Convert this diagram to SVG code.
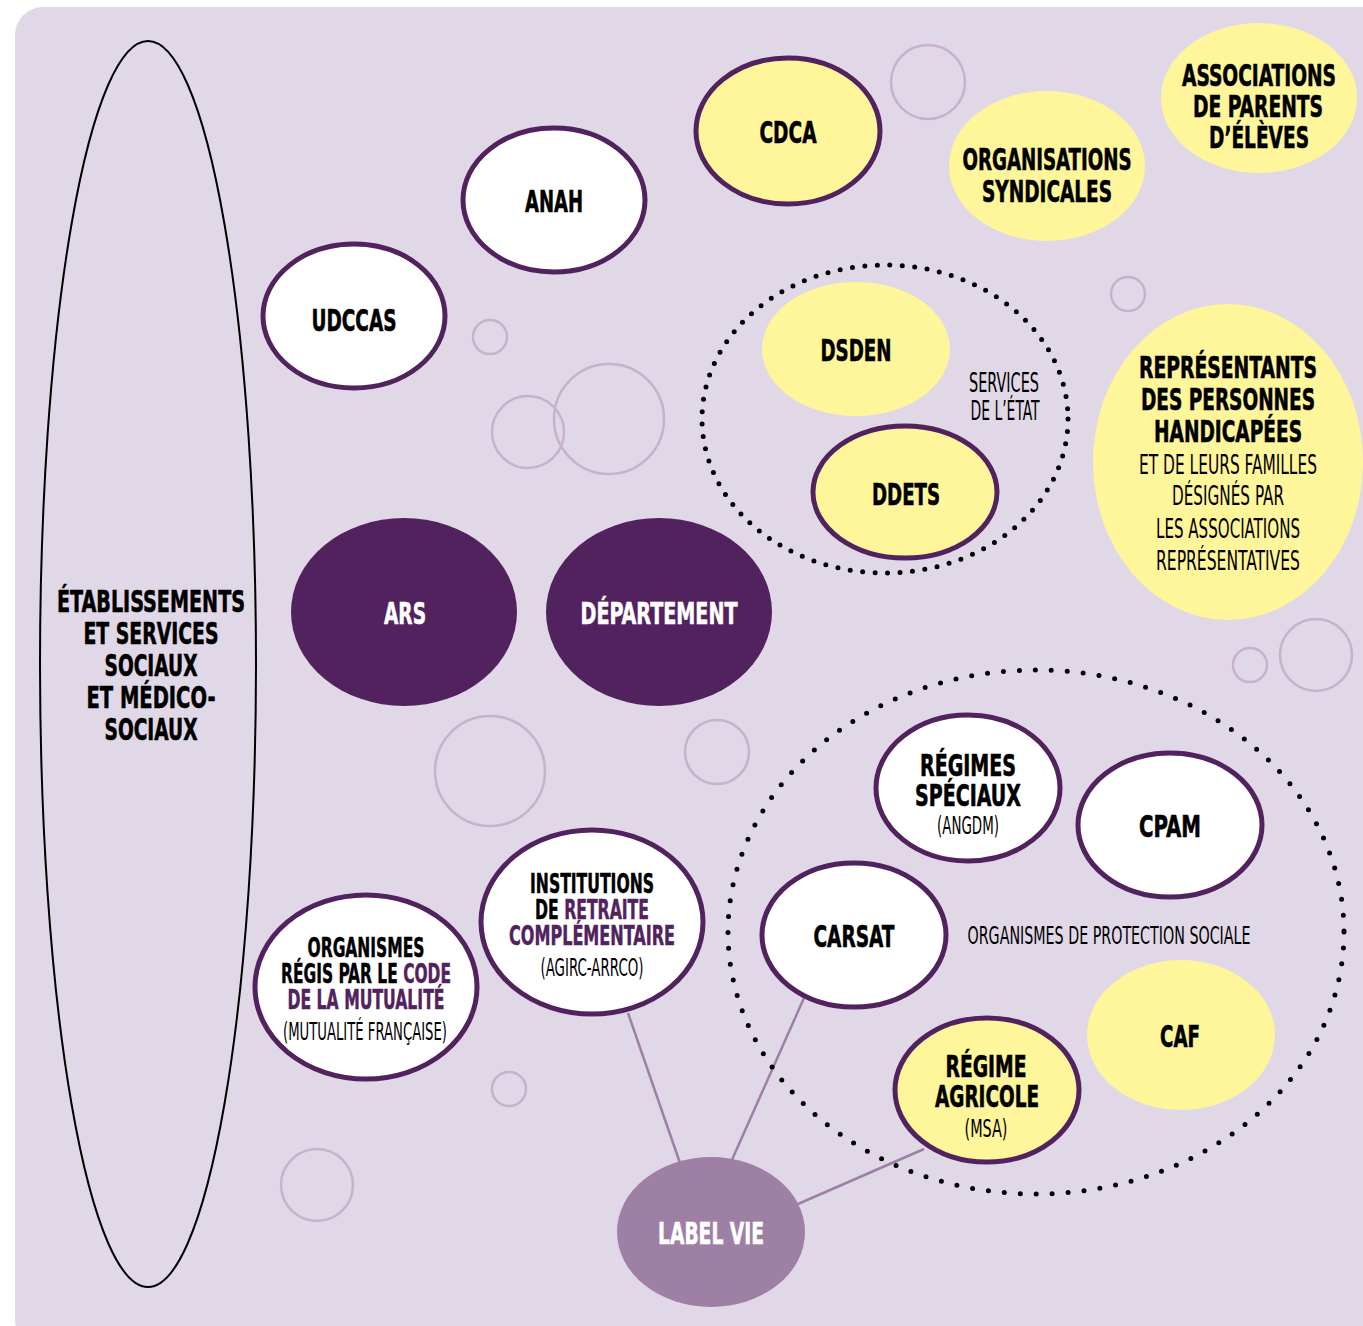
<svg xmlns="http://www.w3.org/2000/svg" width="1363" height="1326" viewBox="0 0 1363 1326">
<style>
.bg{fill:#e0d8e6}
.deco{fill:none;stroke:#c6b2cd;stroke-width:2.5}
.w{fill:#ffffff;stroke:#52225e;stroke-width:5}
.y{fill:#fff59b}
.ys{fill:#fff59b;stroke:#52225e;stroke-width:5}
.p{fill:#52225e}
.lv{fill:#9e80a5}
.dots{fill:none;stroke:#000;stroke-width:5;stroke-linecap:round}
.link{stroke:#9e80a5;stroke-width:2.5;fill:none}
text{font-family:"DejaVu Sans Condensed","DejaVu Sans","Liberation Sans",sans-serif;text-anchor:middle;fill:#000}
.b{font-weight:bold;font-size:31px;stroke:#000;stroke-width:0.6}
.bm{font-weight:bold;font-size:27px;stroke:#000;stroke-width:0.5}
.r{font-weight:normal;font-size:27px}
.rs{font-weight:normal;font-size:25px}
.wt{fill:#fff;stroke:#fff}
.pt{fill:#52225e;stroke:#52225e}
</style>
<rect class="bg" x="15" y="7" width="1380" height="1340" rx="28"/>
<g id="decor">
<circle class="deco" cx="928" cy="82" r="37"/>
<circle class="deco" cx="1128" cy="294" r="17"/>
<circle class="deco" cx="490" cy="337" r="17"/>
<circle class="deco" cx="528" cy="432" r="36"/>
<circle class="deco" cx="609" cy="419" r="55"/>
<circle class="deco" cx="1250" cy="665" r="17"/>
<circle class="deco" cx="1316" cy="655" r="36"/>
<circle class="deco" cx="490" cy="771" r="55"/>
<circle class="deco" cx="717" cy="752" r="32"/>
<circle class="deco" cx="509" cy="1089" r="17"/>
<circle class="deco" cx="317" cy="1185" r="36"/>
</g>
<g id="connectors">
<line class="link" x1="628" y1="1013" x2="680" y2="1163"/>
<line class="link" x1="804" y1="998" x2="731" y2="1162"/>
<line class="link" x1="924" y1="1149" x2="798" y2="1204"/>
</g>
<g id="group-services-etat">
<ellipse class="dots" cx="885" cy="419" rx="183" ry="154" stroke-dasharray="0 12.5"/>
<text class="r" x="1004" y="392" textLength="70" lengthAdjust="spacingAndGlyphs">SERVICES</text>
<text class="r" x="1005" y="420" textLength="69" lengthAdjust="spacingAndGlyphs">DE L’ÉTAT</text>
</g>
<g id="group-protection-sociale">
<ellipse class="dots" cx="1036" cy="932" rx="308" ry="262" stroke-dasharray="0 16"/>
<text class="rs" x="1109" y="944" textLength="283" lengthAdjust="spacingAndGlyphs">ORGANISMES DE PROTECTION SOCIALE</text>
</g>
<g id="etablissements">
<ellipse cx="148" cy="664" rx="108" ry="623" fill="none" stroke="#000" stroke-width="2"/>
<text class="b" x="151" y="612" textLength="188" lengthAdjust="spacingAndGlyphs">ÉTABLISSEMENTS</text>
<text class="b" x="151" y="644" textLength="135" lengthAdjust="spacingAndGlyphs">ET SERVICES</text>
<text class="b" x="151" y="676" textLength="93" lengthAdjust="spacingAndGlyphs">SOCIAUX</text>
<text class="b" x="151" y="708" textLength="129" lengthAdjust="spacingAndGlyphs">ET MÉDICO-</text>
<text class="b" x="151" y="740" textLength="93" lengthAdjust="spacingAndGlyphs">SOCIAUX</text>
</g>
<g id="udccas">
<ellipse class="w" cx="354" cy="316" rx="91" ry="72"/>
<text class="b" x="354" y="331" textLength="85" lengthAdjust="spacingAndGlyphs">UDCCAS</text>
</g>
<g id="anah">
<ellipse class="w" cx="554" cy="200" rx="91" ry="72"/>
<text class="b" x="554" y="212" textLength="58" lengthAdjust="spacingAndGlyphs">ANAH</text>
</g>
<g id="cdca">
<ellipse class="ys" cx="788" cy="131" rx="92" ry="73"/>
<text class="b" x="788" y="143" textLength="57" lengthAdjust="spacingAndGlyphs">CDCA</text>
</g>
<g id="organisations-syndicales">
<ellipse class="y" cx="1047" cy="166" rx="98" ry="75"/>
<text class="b" x="1047" y="170" textLength="169" lengthAdjust="spacingAndGlyphs">ORGANISATIONS</text>
<text class="b" x="1047" y="202" textLength="130" lengthAdjust="spacingAndGlyphs">SYNDICALES</text>
</g>
<g id="associations-parents">
<ellipse class="y" cx="1259" cy="98" rx="98" ry="75"/>
<text class="b" x="1259" y="86" textLength="154" lengthAdjust="spacingAndGlyphs">ASSOCIATIONS</text>
<text class="b" x="1258" y="117" textLength="130" lengthAdjust="spacingAndGlyphs">DE PARENTS</text>
<text class="b" x="1259" y="148" textLength="100" lengthAdjust="spacingAndGlyphs">D’ÉLÈVES</text>
</g>
<g id="dsden">
<ellipse class="y" cx="856" cy="349" rx="94" ry="67"/>
<text class="b" x="856" y="361" textLength="71" lengthAdjust="spacingAndGlyphs">DSDEN</text>
</g>
<g id="ddets">
<ellipse class="ys" cx="905" cy="492" rx="92" ry="66"/>
<text class="b" x="906" y="505" textLength="68" lengthAdjust="spacingAndGlyphs">DDETS</text>
</g>
<g id="representants">
<ellipse class="y" cx="1228" cy="462" rx="135" ry="158"/>
<text class="b" x="1228" y="378" textLength="178" lengthAdjust="spacingAndGlyphs">REPRÉSENTANTS</text>
<text class="b" x="1228" y="410" textLength="174" lengthAdjust="spacingAndGlyphs">DES PERSONNES</text>
<text class="b" x="1228" y="442" textLength="148" lengthAdjust="spacingAndGlyphs">HANDICAPÉES</text>
<text class="r" x="1228" y="474" textLength="178" lengthAdjust="spacingAndGlyphs">ET DE LEURS FAMILLES</text>
<text class="r" x="1228" y="505" textLength="112" lengthAdjust="spacingAndGlyphs">DÉSIGNÉS PAR</text>
<text class="r" x="1228" y="538" textLength="144" lengthAdjust="spacingAndGlyphs">LES ASSOCIATIONS</text>
<text class="r" x="1228" y="570" textLength="144" lengthAdjust="spacingAndGlyphs">REPRÉSENTATIVES</text>
</g>
<g id="ars">
<ellipse class="p" cx="404" cy="612" rx="113" ry="94"/>
<text class="b wt" x="405" y="624" textLength="42" lengthAdjust="spacingAndGlyphs">ARS</text>
</g>
<g id="departement">
<ellipse class="p" cx="659" cy="612" rx="113" ry="94"/>
<text class="b wt" x="659" y="624" textLength="157" lengthAdjust="spacingAndGlyphs">DÉPARTEMENT</text>
</g>
<g id="regimes-speciaux">
<ellipse class="w" cx="968" cy="788" rx="92" ry="73"/>
<text class="b" x="968" y="776" textLength="96" lengthAdjust="spacingAndGlyphs">RÉGIMES</text>
<text class="b" x="968" y="806" textLength="106" lengthAdjust="spacingAndGlyphs">SPÉCIAUX</text>
<text class="rs" x="968" y="834" textLength="62" lengthAdjust="spacingAndGlyphs">(ANGDM)</text>
</g>
<g id="cpam">
<ellipse class="w" cx="1170" cy="825" rx="92" ry="72"/>
<text class="b" x="1170" y="837" textLength="62" lengthAdjust="spacingAndGlyphs">CPAM</text>
</g>
<g id="carsat">
<ellipse class="w" cx="854" cy="935" rx="92" ry="72"/>
<text class="b" x="854" y="947" textLength="81" lengthAdjust="spacingAndGlyphs">CARSAT</text>
</g>
<g id="caf">
<ellipse class="y" cx="1181" cy="1035" rx="94" ry="75"/>
<text class="b" x="1180" y="1047" textLength="40" lengthAdjust="spacingAndGlyphs">CAF</text>
</g>
<g id="regime-agricole">
<ellipse class="ys" cx="987" cy="1090" rx="92" ry="72"/>
<text class="b" x="986" y="1077" textLength="81" lengthAdjust="spacingAndGlyphs">RÉGIME</text>
<text class="b" x="987" y="1107" textLength="104" lengthAdjust="spacingAndGlyphs">AGRICOLE</text>
<text class="rs" x="986" y="1137" textLength="43" lengthAdjust="spacingAndGlyphs">(MSA)</text>
</g>
<g id="institutions-retraite">
<ellipse class="w" cx="592" cy="922" rx="111" ry="92"/>
<text class="bm" x="592" y="893" textLength="124" lengthAdjust="spacingAndGlyphs">INSTITUTIONS</text>
<text class="bm" x="592" y="919" textLength="114" lengthAdjust="spacingAndGlyphs">DE <tspan class="pt">RETRAITE</tspan></text>
<text class="bm pt" x="592" y="945" textLength="166" lengthAdjust="spacingAndGlyphs">COMPLÉMENTAIRE</text>
<text class="rs" x="592" y="976" textLength="103" lengthAdjust="spacingAndGlyphs">(AGIRC-ARRCO)</text>
</g>
<g id="organismes-mutualite">
<ellipse class="w" cx="366" cy="987" rx="111" ry="92"/>
<text class="bm" x="366" y="957" textLength="117" lengthAdjust="spacingAndGlyphs">ORGANISMES</text>
<text class="bm" x="366" y="983" textLength="170" lengthAdjust="spacingAndGlyphs">RÉGIS PAR LE <tspan class="pt">CODE</tspan></text>
<text class="bm pt" x="366" y="1009" textLength="157" lengthAdjust="spacingAndGlyphs">DE LA MUTUALITÉ</text>
<text class="rs" x="365" y="1040" textLength="164" lengthAdjust="spacingAndGlyphs">(MUTUALITÉ FRANÇAISE)</text>
</g>
<g id="label-vie">
<ellipse class="lv" cx="711" cy="1232" rx="94" ry="75"/>
<text class="b wt" x="711" y="1244" textLength="106" lengthAdjust="spacingAndGlyphs">LABEL VIE</text>
</g>
</svg>
